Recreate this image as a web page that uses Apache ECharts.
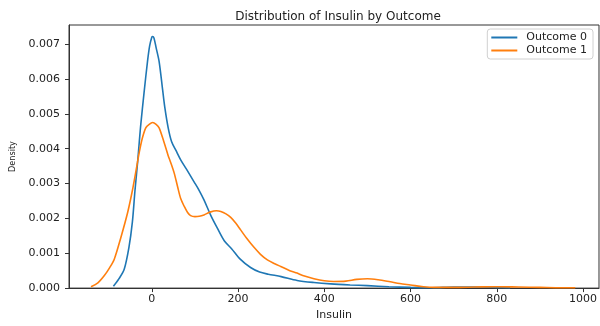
<!DOCTYPE html>
<html>
<head>
<meta charset="utf-8">
<script src="https://cdn.jsdelivr.net/npm/echarts@6/dist/echarts.min.js"></script>
<style>
  html, body { margin: 0; padding: 0; background: #fff; }
  #chart { width: 600px; height: 326px; }
</style>
</head>
<body>
<div id="chart"></div>
<script>
// KDE estimates
const insulin0 = [-89, -76, -64, -53, -45, -39, -33, -29, -25.5, -18, -10, -5, 0, 2, 5, 10, 17, 25, 30, 38, 46, 56, 67, 80, 98, 110, 121, 137, 152, 168, 185, 205, 229, 250, 270, 300, 337, 376, 415, 460, 500, 550, 600, 650, 700, 750, 800, 831];
const density0 = [0.00005, 0.00027, 0.00054, 0.00117, 0.0019, 0.0028, 0.0036, 0.0042, 0.0047, 0.0056, 0.0065, 0.00695, 0.0072, 0.00722, 0.00718, 0.0069, 0.0065, 0.0057, 0.0052, 0.0046, 0.0042, 0.00395, 0.00368, 0.00342, 0.00305, 0.0028, 0.00253, 0.00208, 0.00172, 0.00136, 0.00113, 0.00083, 0.00059, 0.00046, 0.0004, 0.00033, 0.00022, 0.00016, 0.00012, 0.00009, 0.00007, 0.00004, 0.00002, 0.00001, 0.00003, 0.00003, 0.00002, 0.00001];

const insulin1 = [-141, -125, -110, -98, -87, -72, -56, -45, -37, -29, -22, -14, -6, 2, 10, 17, 28, 38, 44, 52, 60, 67, 75, 83, 90, 100, 110, 121, 135, 150, 160, 172, 183, 195, 206, 220, 237, 252, 268, 285, 299, 320, 337, 350, 376, 400, 422, 450, 475, 500, 525, 553, 575, 600, 630, 654, 700, 750, 800, 850, 900, 950, 982];
const density1 = [0.00004, 0.00015, 0.00036, 0.00058, 0.00083, 0.00144, 0.00217, 0.0028, 0.00334, 0.0039, 0.0043, 0.0046, 0.0047, 0.00475, 0.0047, 0.0046, 0.0042, 0.0038, 0.0036, 0.0033, 0.0029, 0.00257, 0.00235, 0.00217, 0.00208, 0.00205, 0.00206, 0.0021, 0.00218, 0.00222, 0.0022, 0.00213, 0.00203, 0.00186, 0.00167, 0.00143, 0.00117, 0.00097, 0.00081, 0.0007, 0.00062, 0.0005, 0.00043, 0.00036, 0.00027, 0.00021, 0.00019, 0.0002, 0.00025, 0.00027, 0.00024, 0.00018, 0.00013, 0.00009, 0.00004, 0.00002, 0.00002, 0.00003, 0.00004, 0.00003, 0.00002, 0.00001, 0.00001];

const xTicks = [0, 200, 400, 600, 800, 1000];
const yTicks = [0, 0.001, 0.002, 0.003, 0.004, 0.005, 0.006, 0.007];
const seriesNames = ['Outcome 0', 'Outcome 1'];
const seriesColors = ['#1f77b4', '#ff7f0e'];

const zip = (xs, ys) => xs.map((x, i) => [x, ys[i]]);
const textColor = '#222';
const font = 'DejaVu Sans';

const chart = echarts.init(document.getElementById('chart'), null, {renderer: 'canvas'});
chart.setOption({
  animation: false,
  backgroundColor: '#fff',
  title: {
    text: 'Distribution of Insulin by Outcome',
    left: 333,
    textAlign: 'center',
    top: 6,
    textStyle: {fontFamily: font, fontSize: 12, fontWeight: 'normal', color: textColor},
  },
  legend: {
    orient: 'vertical',
    right: 7,
    top: 29,
    icon: 'rect',
    itemWidth: 26,
    itemHeight: 2,
    itemGap: 2,
    padding: [3, 6, 3, 4],
    borderColor: '#d0d0d0',
    borderWidth: 1,
    borderRadius: 3,
    backgroundColor: '#fff',
    textStyle: {fontFamily: font, fontSize: 11, color: textColor, padding: [0, 0, 0, 4]},
    data: seriesNames,
  },
  grid: {
    left: 68,
    right: 1,
    top: 25,
    bottom: 23,
    show: true,
    borderColor: '#333',
    borderWidth: 1,
  },
  xAxis: {
    type: 'value',
    min: -192,
    max: 1037,
    name: 'Insulin',
    nameLocation: 'middle',
    nameGap: 18,
    nameTextStyle: {fontFamily: font, fontSize: 11, color: textColor},
    axisLine: {onZero: false, lineStyle: {color: '#333'}},
    axisTick: {length: 4, lineStyle: {color: '#333'}, customValues: xTicks},
    axisLabel: {
      fontFamily: font, fontSize: 11, color: textColor, margin: 6,
      customValues: xTicks,
      formatter: v => String(v),
    },
    splitLine: {show: false},
  },
  yAxis: {
    type: 'value',
    min: 0,
    max: 0.00755,
    name: 'Density',
    nameLocation: 'middle',
    nameGap: 52,
    nameTextStyle: {fontFamily: 'DejaVu Sans Condensed', fontSize: 9, color: textColor},
    axisLine: {show: true, onZero: false, lineStyle: {color: '#333'}},
    axisTick: {show: true, length: 4, lineStyle: {color: '#333'}, customValues: yTicks},
    axisLabel: {
      fontFamily: font, fontSize: 11, color: textColor, margin: 9,
      customValues: yTicks,
      formatter: v => v.toFixed(3),
    },
    splitLine: {show: false},
  },
  series: [
    {
      name: seriesNames[0],
      type: 'line',
      data: zip(insulin0, density0),
      smooth: 0.3,
      symbol: 'none',
      lineStyle: {color: seriesColors[0], width: 1.6},
      itemStyle: {color: seriesColors[0]},
    },
    {
      name: seriesNames[1],
      type: 'line',
      data: zip(insulin1, density1),
      smooth: 0.3,
      symbol: 'none',
      lineStyle: {color: seriesColors[1], width: 1.6},
      itemStyle: {color: seriesColors[1]},
    },
  ],
});
</script>
</body>
</html>
